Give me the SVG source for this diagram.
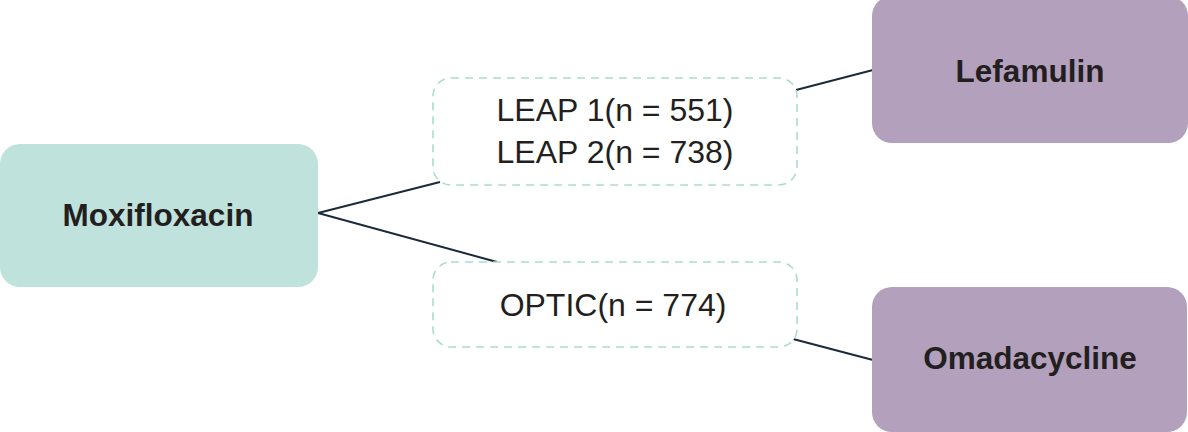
<svg xmlns="http://www.w3.org/2000/svg" width="1188" height="432" viewBox="0 0 1188 432">
<style>
.src{fill:#bfe3dc}
.dst{fill:#b3a0bc}
.trial{fill:#fff;stroke:#a9dcd0;stroke-width:1.6;stroke-dasharray:8 6}
.b{font-family:"Liberation Sans",Arial,sans-serif;font-weight:bold;font-size:31.5px;fill:#231f20;text-anchor:middle}
.r{font-family:"Liberation Sans",Arial,sans-serif;font-size:32px;fill:#231f20;text-anchor:middle}
.c{stroke:#1b2a3a;stroke-width:2;fill:none}
</style>
<rect width="1188" height="432" fill="#fff"/>
<g id="connectors">
<line class="c" x1="318" y1="213" x2="440" y2="182"/>
<line class="c" x1="318" y1="213" x2="497" y2="262"/>
<line class="c" x1="796" y1="90" x2="873" y2="70"/>
<line class="c" x1="793" y1="339" x2="873" y2="360"/>
</g>
<g id="moxifloxacin">
<rect class="src" x="0" y="144" width="318" height="143" rx="20"/>
<text class="b" x="158" y="226">Moxifloxacin</text>
</g>
<g id="leap">
<rect class="trial" x="433" y="78" width="364" height="107" rx="18"/>
<text class="r" x="615" y="121">LEAP 1(n = 551)</text>
<text class="r" x="615" y="163">LEAP 2(n = 738)</text>
</g>
<g id="optic">
<rect class="trial" x="433" y="262" width="364" height="85" rx="18"/>
<text class="r" x="613" y="316">OPTIC(n = 774)</text>
</g>
<g id="lefamulin">
<rect class="dst" x="872" y="-4" width="316" height="147" rx="20"/>
<text class="b" x="1030" y="82">Lefamulin</text>
</g>
<g id="omadacycline">
<rect class="dst" x="872" y="287" width="315" height="145" rx="20"/>
<text class="b" x="1030" y="369">Omadacycline</text>
</g>
</svg>
